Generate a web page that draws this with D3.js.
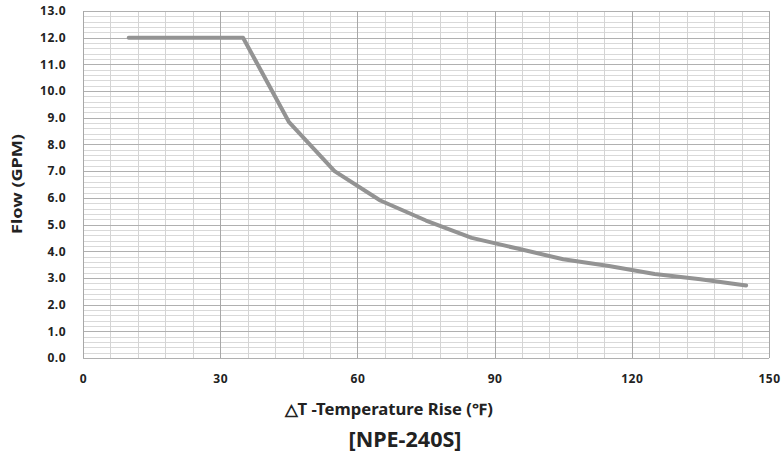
<!DOCTYPE html>
<html>
<head>
<meta charset="utf-8">
<script src="https://cdn.jsdelivr.net/npm/d3@7"></script>
<style>
  body { margin: 0; background: #fff; }
  text { font-family: "Noto Sans", "Open Sans", sans-serif; font-weight: bold; fill: #222; }
</style>
</head>
<body>
<div id="chart"></div>
<script>
// data
var tempRise = [10, 35, 45, 55, 65, 75, 85, 95, 105, 115, 125, 135, 145];
var flowGpm  = [12.0, 12.0, 8.85, 7.0, 5.9, 5.15, 4.5, 4.1, 3.7, 3.45, 3.15, 2.95, 2.72];
var xTicks = [0, 30, 60, 90, 120, 150];
var yTicks = d3.range(0, 13.01, 1);

var W = 782, H = 458;
var margin = {top: 11, right: 13, bottom: 100, left: 83};

var svg = d3.select("#chart").append("svg")
    .attr("width", W)
    .attr("height", H);

var x = d3.scaleLinear().domain([0, 150]).range([margin.left, W - margin.right]);
var y = d3.scaleLinear().domain([0, 13]).range([H - margin.bottom, margin.top]);

//gridlines: minor first, then major on top
var grid = svg.append("g");
var minorY = d3.range(0, 13.001, 0.2).filter(function(v){ return Math.abs(v - Math.round(v)) > 0.01; });
var minorX = d3.range(0, 150.1, 6).filter(function(v){ return v % 30 != 0; });

grid.selectAll("line.my").data(minorY).enter().append("line")
    .attr("x1", x(0)).attr("x2", x(150))
    .attr("y1", function(d){ return Math.round(y(d)) + 0.5; })
    .attr("y2", function(d){ return Math.round(y(d)) + 0.5; })
    .attr("stroke", "#d9d9d9").attr("stroke-width", 1);

grid.selectAll("line.mx").data(minorX).enter().append("line")
    .attr("y1", y(0)).attr("y2", y(13))
    .attr("x1", function(d){ return Math.round(x(d)) + 0.5; })
    .attr("x2", function(d){ return Math.round(x(d)) + 0.5; })
    .attr("stroke", "#d4d4d4").attr("stroke-width", 1);

grid.selectAll("line.Y").data(yTicks).enter().append("line")
    .attr("x1", x(0)).attr("x2", x(150))
    .attr("y1", function(d){ return Math.round(y(d)) + 0.5; })
    .attr("y2", function(d){ return Math.round(y(d)) + 0.5; })
    .attr("stroke", "#b0b0b0").attr("stroke-width", 1);

grid.selectAll("line.X").data(xTicks).enter().append("line")
    .attr("y1", y(0)).attr("y2", y(13))
    .attr("x1", function(d){ return Math.round(x(d)) + 0.5; })
    .attr("x2", function(d){ return Math.round(x(d)) + 0.5; })
    .attr("stroke", "#a8a8a8").attr("stroke-width", 1);

// axes labels (no tick marks)
var yAxis = d3.axisLeft(y).tickValues(yTicks).tickSize(0).tickPadding(17)
    .tickFormat(d3.format(".1f"));
svg.append("g")
    .attr("transform", "translate(" + x(0) + ",0)")
    .call(yAxis)
    .call(function(g){ g.select(".domain").remove(); })
    .selectAll("text").style("font-size", "12px").style("letter-spacing", "0.5px")
    .style("font-family", "'Noto Sans', sans-serif");

var xAxis = d3.axisBottom(x).tickValues(xTicks).tickSize(0).tickPadding(16);
svg.append("g")
    .attr("transform", "translate(0," + y(0) + ")")
    .call(xAxis)
    .call(function(g){ g.select(".domain").remove(); })
    .selectAll("text").style("font-size", "12px").style("letter-spacing", "0.5px")
    .style("font-family", "'Noto Sans', sans-serif");

// the flow line
var line = d3.line()
    .x(function(d, i){ return x(tempRise[i]); })
    .y(function(d){ return y(d); });

svg.append("path")
    .datum(flowGpm)
    .attr("d", line)
    .attr("fill", "none")
    .attr("stroke", "#939393")
    .attr("stroke-width", 4)
    .attr("stroke-linejoin", "round")
    .attr("stroke-linecap", "round");

// titles
svg.append("text")
    .attr("transform", "translate(18,184) rotate(-90)")
    .attr("text-anchor", "middle")
    .attr("dominant-baseline", "middle")
    .attr("textLength", 100)
    .attr("lengthAdjust", "spacingAndGlyphs")
    .style("font-size", "15px")
    .text("Flow (GPM)");

svg.append("text")
    .attr("x", 389).attr("y", 415)
    .attr("text-anchor", "middle")
    .attr("textLength", 208)
    .attr("lengthAdjust", "spacingAndGlyphs")
    .style("font-size", "16px")
    .text("△T -Temperature Rise (℉)");

svg.append("text")
    .attr("x", 405).attr("y", 447)
    .attr("text-anchor", "middle")
    .attr("textLength", 113)
    .attr("lengthAdjust", "spacingAndGlyphs")
    .style("font-size", "21px")
    .text("[NPE-240S]");
</script>
</body>
</html>
